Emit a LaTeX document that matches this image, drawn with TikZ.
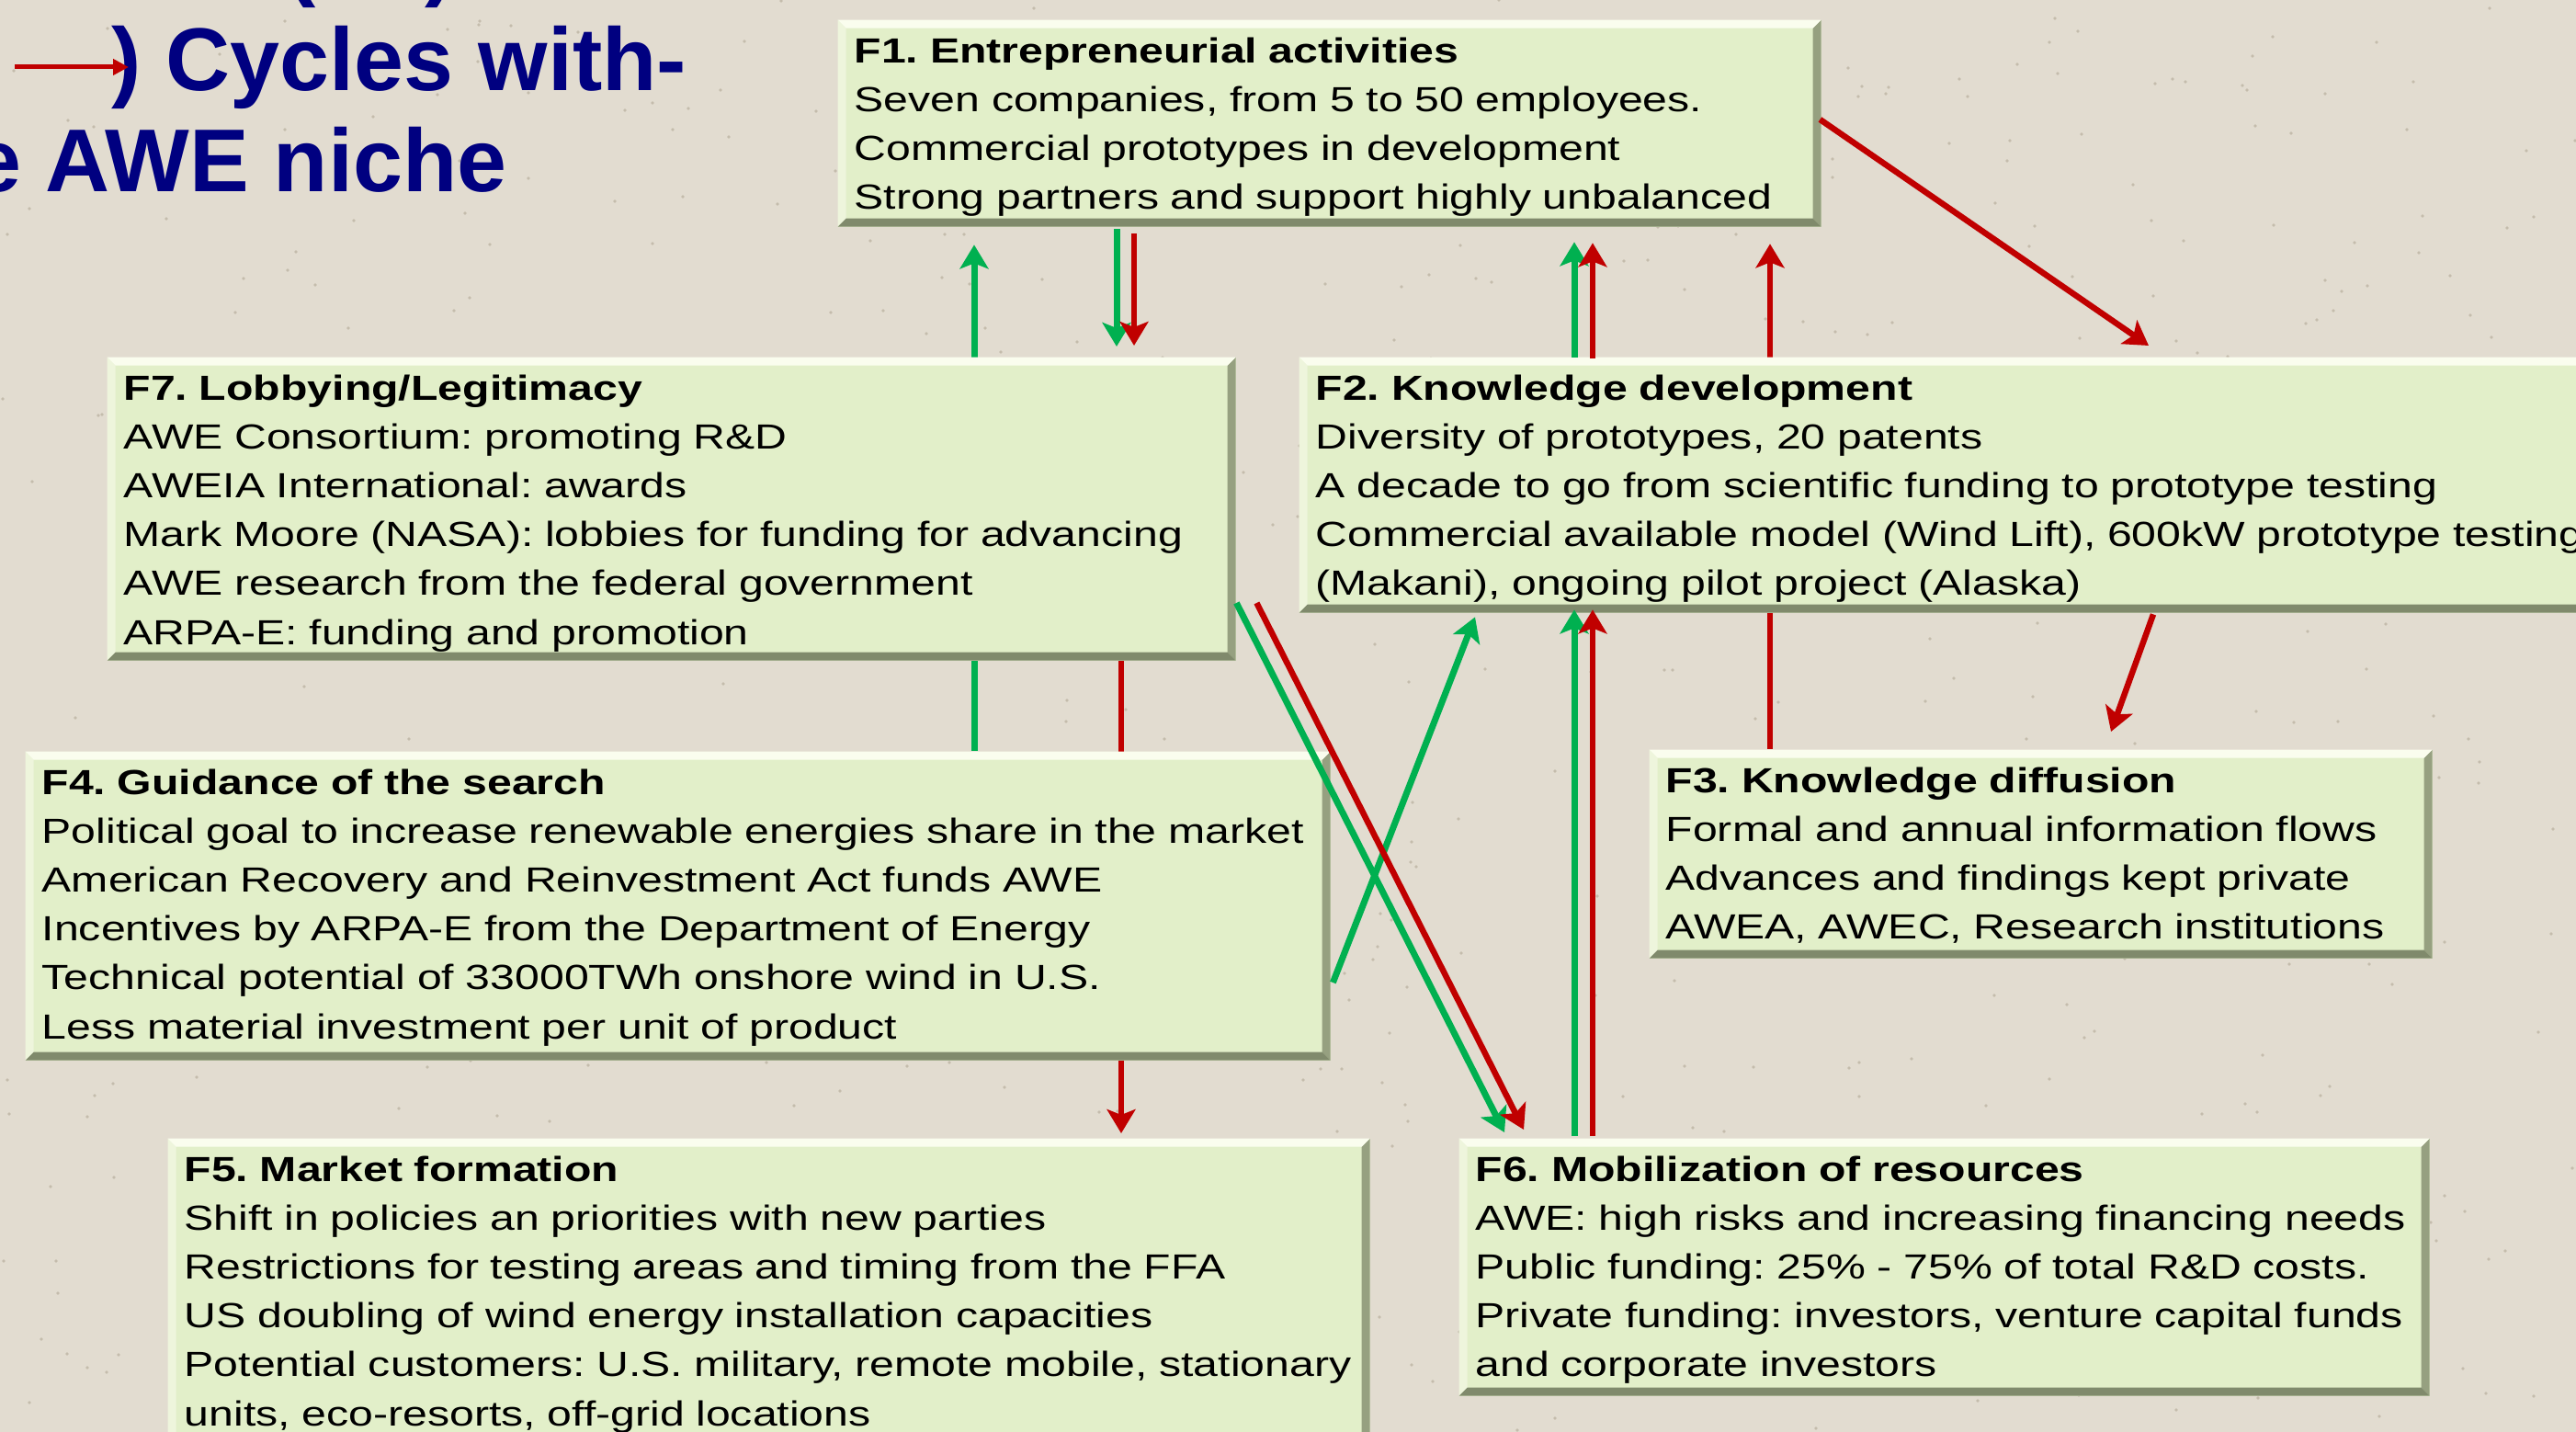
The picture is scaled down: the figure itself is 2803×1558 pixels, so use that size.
\documentclass[tikz,border=0pt]{standalone}
\usepackage{fontspec}
\setmainfont{Liberation Sans}
\newfontfamily\bodyfont[FakeStretch=1.27]{Liberation Sans}
\usetikzlibrary{calc,arrows.meta}
\pgfdeclarelayer{bg}\pgfdeclarelayer{behind}\pgfsetlayers{bg,behind,main}
\definecolor{bgcol}{RGB}{226,220,208}
\definecolor{speck}{RGB}{196,188,172}
\definecolor{boxfill}{RGB}{226,239,201}
\definecolor{hilite}{RGB}{250,253,238}
\definecolor{leftedge}{RGB}{238,245,220}
\definecolor{rightedge}{RGB}{150,160,128}
\definecolor{bottomedge}{RGB}{128,138,108}
\definecolor{agreen}{RGB}{0,176,80}
\definecolor{ared}{RGB}{192,0,0}
\definecolor{navy}{RGB}{0,0,128}
\newcommand\bodysize{\bodyfont\fontsize{10.8pt}{15.1pt}\selectfont\frenchspacing\hyphenpenalty=10000\relax}
\tikzset{
  fbox/.style={rectangle, fill=boxfill, anchor=north west, inner xsep=1.8mm, inner ysep=0pt,
    align=left, text height=4.7mm, font=\bodysize,
    path picture={
      \fill[leftedge] (path picture bounding box.north west) -- (path picture bounding box.south west)
        -- ([shift={(0.9mm,0.9mm)}]path picture bounding box.south west)
        -- ([shift={(0.9mm,-0.9mm)}]path picture bounding box.north west) -- cycle;
      \fill[rightedge] (path picture bounding box.north east) -- (path picture bounding box.south east)
        -- ([shift={(-0.9mm,0.9mm)}]path picture bounding box.south east)
        -- ([shift={(-0.9mm,-0.9mm)}]path picture bounding box.north east) -- cycle;
      \fill[hilite] (path picture bounding box.north west) -- (path picture bounding box.north east)
        -- ([shift={(-0.9mm,-0.9mm)}]path picture bounding box.north east)
        -- ([shift={(0.9mm,-0.9mm)}]path picture bounding box.north west) -- cycle;
      \fill[bottomedge] (path picture bounding box.south west) -- (path picture bounding box.south east)
        -- ([shift={(-0.9mm,0.9mm)}]path picture bounding box.south east)
        -- ([shift={(0.9mm,0.9mm)}]path picture bounding box.south west) -- cycle;
    }},
  titletext/.style={font=\fontsize{27.6pt}{33pt}\selectfont\bfseries, text=navy, inner sep=0pt},
  tip/.style={-{Stealth[length=2.6mm,width=3.1mm,inset=0.6mm]}},
  garrow/.style={draw=agreen, line width=0.7mm, tip},
  rarrow/.style={draw=ared, line width=0.65mm, tip},
  legendarrow/.style={draw=ared, line width=0.5mm, -{Stealth[length=1.7mm,width=1.7mm,inset=0mm]}}
}
\begin{document}
\begin{tikzpicture}[x=0.1mm, y=-0.1mm]
\useasboundingbox (0,0) rectangle (2803,1558);
\begin{pgfonlayer}{bg}
\fill[bgcol] (0,0) rectangle (2803,1558);
\pgfmathsetseed{7}
\foreach \i in {1,...,700}{
  \pgfmathsetmacro{\px}{random(0,2803)}
  \pgfmathsetmacro{\py}{random(0,1558)}
  \fill[speck] (\px,\py) circle (0.18mm);
}
\end{pgfonlayer}

% title
\node[titletext, anchor=base west] (T0a) at (311,-11) {(};
\node[titletext, anchor=base west] (T0b) at (462,-11) {)};
\node[titletext, anchor=base west] (T1) at (121,99) {) Cycles with-};
\node[titletext, anchor=base east] (T2) at (552,209) {e AWE niche};
\coordinate (L0) at (16,73);
\coordinate (L1) at (140,73);
\draw[legendarrow] (L0) -- (L1);

% boxes
\node[fbox, text width=10.34cm, text depth=1.78cm] (F1) at (911,21) {%
\textbf{F1. Entrepreneurial activities}\\
Seven companies, from 5 to 50 employees.\\
Commercial prototypes in development\\
Strong partners and support highly unbalanced};

\node[fbox, text width=11.92cm, text depth=2.83cm] (F7) at (116,388) {%
\textbf{F7. Lobbying/Legitimacy}\\
AWE Consortium: promoting R\&D\\
AWEIA International: awards\\
Mark Moore (NASA): lobbies for funding for advancing\\
AWE research from the federal government\\
ARPA-E: funding and promotion};

\node[fbox, text width=14.51cm, text depth=2.31cm] (F2) at (1413,388) {%
\textbf{F2. Knowledge development}\\
Diversity of prototypes, 20 patents\\
A decade to go from scientific funding to prototype testing\\
Commercial available model (Wind Lift), 600kW prototype testing\\
(Makani), ongoing pilot project (Alaska)};

\node[fbox, text width=13.84cm, text depth=2.89cm] (F4) at (27,817) {%
\textbf{F4. Guidance of the search}\\
Political goal to increase renewable energies share in the market\\
American Recovery and Reinvestment Act funds AWE\\
Incentives by ARPA-E from the Department of Energy\\
Technical potential of 33000TWh onshore wind in U.S.\\
Less material investment per unit of product};

\node[fbox, text width=8.16cm, text depth=1.80cm] (F3) at (1794,815) {%
\textbf{F3. Knowledge diffusion}\\
Formal and annual information flows\\
Advances and findings kept private\\
AWEA, AWEC, Research institutions};

\node[fbox, text width=12.72cm, text depth=3.15cm] (F5) at (182,1238) {%
\textbf{F5. Market formation}\\
Shift in policies an priorities with new parties\\
Restrictions for testing areas and timing from the FFA\\
US doubling of wind energy installation capacities\\
Potential customers: U.S. military, remote mobile, stationary\\
units, eco-resorts, off-grid locations};

\node[fbox, text width=10.20cm, text depth=2.33cm] (F6) at (1587,1238) {%
\textbf{F6. Mobilization of resources}\\
AWE: high risks and increasing financing needs\\
Public funding: 25\% - 75\% of total R\&D costs.\\
Private funding: investors, venture capital funds\\
and corporate investors};

% connectors passing behind boxes
\begin{pgfonlayer}{behind}
\draw[garrow] ($(F4.north west)+(1033,0)$) -- ($(F1.south west)+(149,19)$);
\draw[rarrow] ($(F3.north west)+(132,0)$) -- ($(F1.south west)+(1015,18)$);
\draw[rarrow] ($(F7.south west)+(1104,0)$) -- ($(F5.north west)+(1038,-5)$);
\end{pgfonlayer}

% connectors
\draw[garrow] ($(F1.south west)+(304,2)$) -- ($(F7.north west)+(1099,-11)$);
\draw[rarrow] ($(F1.south west)+(323,7)$) -- ($(F7.north west)+(1118,-12)$);
\draw[garrow] ($(F2.north west)+(300,1)$) -- ($(F1.south west)+(802,16)$);
\draw[rarrow] ($(F2.north west)+(320,2)$) -- ($(F1.south west)+(822,17)$);
\draw[rarrow] ($(F1.north east)+(-2,109)$) -- ($(F2.north west)+(925,-12)$);
\draw[rarrow] ($(F2.south west)+(930,1)$) -- ($(F3.north west)+(503,-19)$);
\draw[garrow] ($(F6.north west)+(126,-2)$) -- ($(F2.south west)+(300,-4)$);
\draw[rarrow] ($(F6.north west)+(146,-2)$) -- ($(F2.south west)+(320,-4)$);
\draw[garrow] ($(F7.north east)+(0,268)$) -- ($(F6.north west)+(50,-6)$);
\draw[garrow] ($(F4.north east)+(2,252)$) -- ($(F2.south west)+(192,4)$);
\draw[rarrow] ($(F7.north east)+(22,268)$) -- ($(F6.north west)+(71,-9)$);
\end{tikzpicture}
\end{document}
